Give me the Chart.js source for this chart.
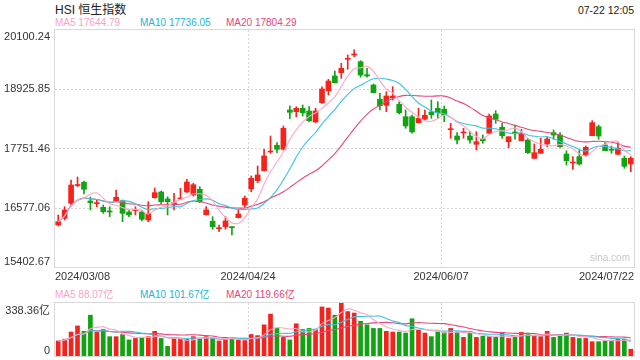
<!DOCTYPE html>
<html><head><meta charset="utf-8">
<script src="https://cdn.jsdelivr.net/npm/chart.js@4.4.1/dist/chart.umd.min.js"></script>
<style>
html,body{margin:0;padding:0;background:#fff;width:640px;height:360px;overflow:hidden;}
#wrap{position:relative;width:640px;height:360px;font-family:"Liberation Sans",Arial,"Noto Sans CJK SC",sans-serif;}
.t{position:absolute;white-space:nowrap;line-height:1;}
canvas{position:absolute;left:0;}
</style></head><body>
<div id="wrap">
<div class="t" style="left:55px;top:4px;font-size:12px;color:#222">HSI 恒生指数</div>
<div class="t" style="right:6px;top:5px;font-size:10.5px;color:#222">07-22 12:05</div>
<div class="t" style="left:55px;top:18px;font-size:10px;color:#f7a3c4">MA5 17644.79</div>
<div class="t" style="left:140px;top:18px;font-size:10px;color:#22b5d6">MA10 17736.05</div>
<div class="t" style="left:226px;top:18px;font-size:10px;color:#e8457c">MA20 17804.29</div>
<div class="t" style="left:55px;top:290px;font-size:10px;color:#f7a3c4">MA5 88.07亿</div>
<div class="t" style="left:140px;top:290px;font-size:10px;color:#22b5d6">MA10 101.67亿</div>
<div class="t" style="left:226px;top:290px;font-size:10px;color:#e8457c">MA20 119.66亿</div>
<canvas id="k" width="640" height="290" style="top:0"></canvas>
<canvas id="v" width="640" height="70" style="top:290px"></canvas>
</div>
<script>
const dates = ["03/08","03/11","03/12","03/13","03/14","03/15","03/18","03/19","03/20","03/21","03/22","03/25","03/26","03/27","03/28",
"04/02","04/03","04/05","04/08","04/09","04/10","04/11","04/12","04/15","04/16","04/17","04/18","04/19","04/22","04/23","04/24","04/25","04/26","04/29","04/30",
"05/02","05/03","05/06","05/07","05/08","05/09","05/10","05/13","05/14","05/16","05/17","05/20","05/21","05/22","05/23","05/24","05/27","05/28","05/29","05/30","05/31",
"06/03","06/04","06/05","06/06","06/07","06/11","06/12","06/13","06/14","06/17","06/18","06/19","06/20","06/21","06/24","06/25","06/26","06/27","06/28",
"07/02","07/03","07/04","07/05","07/08","07/09","07/10","07/11","07/12","07/15","07/16","07/17","07/18","07/19","07/22"];
const open = [16235,16368,16665,17018,17082,16711,16659,16586,16505,16717,
16717,16493,16519,16493,16334,16776,16889,16751,16632,16751,
16889,16830,16943,16439,16309,16162,16202,16196,16380,16632,
16949,17113,17312,17682,17815,17736,18515,18481,18548,18495,
18277,18659,18897,19189,19254,19520,19605,19472,19214,19010,
18727,18608,18758,18628,18382,18382,18263,18336,18475,18548,
18528,18124,17999,18059,17999,17835,17940,18053,18435,18172,
17886,18073,17906,17920,17557,17656,17841,18065,18019,17642,
17464,17589,17623,18005,18184,17821,17728,17637,17557,17444];
const close = [16301,16533,17028,17038,16943,16677,16671,16499,16493,16784,
16467,16434,16547,16348,16467,16876,16697,16697,16677,16770,
17088,17034,16697,16533,16202,16176,16315,16182,16453,16765,
17161,17226,17603,17696,17736,18152,18469,18548,18461,18303,
18495,18931,19089,19056,19341,19531,19625,19208,19189,18858,
18600,18792,18792,18461,18198,18079,18350,18410,18421,18461,
18416,18138,17920,18073,17920,17886,17906,18396,18330,18005,
17985,18059,18053,17668,17668,17736,17940,18019,17787,17510,
17478,17444,17775,18263,17999,17708,17716,17760,17400,17560];
const high = [16434,16598,17127,17187,17107,16790,16731,16632,16598,16929,
16731,16533,16598,16533,16697,16969,16909,16796,16864,16963,
17141,17062,16994,16598,16400,16235,16400,16202,16533,16810,
17207,17405,17736,17999,17867,18198,18594,18580,18614,18580,
18548,18976,19123,19288,19440,19605,19706,19492,19341,19030,
18846,18877,18976,18679,18515,18416,18548,18515,18713,18679,
18594,18251,18065,18152,18085,18085,18019,18435,18501,18251,
17985,18217,18132,17954,17841,17954,17985,18118,18065,17708,
17589,17722,17801,18303,18217,17867,17801,17867,17603,17590];
const low = [16216,16334,16612,16994,16850,16533,16598,16467,16400,16711,
16301,16400,16434,16315,16301,16770,16652,16434,16533,16745,
16879,16810,16677,16434,16150,16103,16150,16040,16374,16586,
16895,17074,17306,17656,17668,17722,18342,18382,18396,18283,
18263,18647,18812,19044,19143,19321,19571,19163,19163,18852,
18515,18481,18713,18435,18152,18053,18257,18316,18350,18350,
18283,17954,17841,17954,17855,17722,17855,18039,18251,17954,
17767,17934,17906,17656,17557,17656,17787,17934,17775,17424,
17339,17424,17603,18005,17934,17708,17656,17623,17359,17292];
const volume = [96.0,107.4,153.2,192.0,157.7,260.6,150.9,169.2,123.5,123.5,
137.2,102.9,112.0,118.9,123.5,157.7,112.0,61.7,112.0,112.0,
107.4,123.5,112.0,123.5,118.9,96.0,102.9,114.3,102.9,100.6,
137.2,130.3,198.9,267.5,176.0,118.9,102.9,205.8,169.2,176.0,
169.2,313.2,306.3,260.6,338.36,283.5,274.3,221.8,198.9,176.0,
176.0,157.7,153.2,153.2,146.3,237.8,164.6,146.3,123.5,153.2,
150.9,176.0,153.2,118.9,146.3,118.9,125.7,123.5,118.9,148.6,
112.0,118.9,150.9,146.3,125.7,123.5,157.7,118.9,130.3,146.3,
118.9,112.0,112.0,91.4,91.4,96.0,100.6,107.4,107.4,43.4];
const priceTicks = [15402.67,16577.06,17751.46,18925.85,20100.24];
const volTicks = ["0","338.36亿"];
const volMax = 338.36;
const xTickIdx = [0,30,60,89];
const xTickLabels = ["2024/03/08","2024/04/24","2024/06/07","2024/07/22"];

const RED='#f5231c', GREEN='#10a312';
const C_MA5='#ffa6c8', C_MA10='#3cc4df', C_MA20='#e8467c';
const FONT='"Liberation Sans", Arial, "Noto Sans CJK SC", sans-serif';
function ma(arr,n){return arr.map((_,i)=>{const s=Math.max(0,i-n+1);let t=0;for(let j=s;j<=i;j++)t+=arr[j];return t/(i-s+1);});}
const colors = close.map((c,i)=>c>=open[i]?RED:GREEN);

function frame(chart, dashedY){
  const {ctx, chartArea:a, scales:{x,y}} = chart;
  ctx.save();
  ctx.strokeStyle='#d6d6d6'; ctx.lineWidth=1;
  ctx.setLineDash([2,2]);
  const slot = x.getPixelForValue(1)-x.getPixelForValue(0);
  dashedY.forEach(v=>{const py=Math.round(y.getPixelForValue(v))+0.5;ctx.beginPath();ctx.moveTo(a.left,py);ctx.lineTo(a.right,py);ctx.stroke();});
  [30,60].forEach(i=>{const px=Math.round(x.getPixelForValue(i)-slot/2)+0.5;ctx.beginPath();ctx.moveTo(px,a.top);ctx.lineTo(px,a.bottom);ctx.stroke();});
  ctx.setLineDash([]);
  ctx.strokeStyle='#d9d9d9';
  ctx.strokeRect(Math.round(a.left)-0.5,Math.round(a.top)-0.5,Math.round(a.right-a.left)+1,Math.round(a.bottom-a.top)+1);
  ctx.restore();
}

const kPlugin = {id:'kp',
  beforeDatasetsDraw(chart){frame(chart, priceTicks.slice(1,-1));},
  afterDraw(chart){
    const {ctx, chartArea:a, scales:{x,y}} = chart;
    ctx.save(); ctx.fillStyle='#333'; ctx.font='11px '+FONT; ctx.textAlign='right';
    priceTicks.forEach((v,i)=>{
      let py=y.getPixelForValue(v);
      if(i===priceTicks.length-1){ctx.textBaseline='top';py=a.top+1;}
      else if(i===0){ctx.textBaseline='bottom';py=a.bottom;}
      else ctx.textBaseline='middle';
      ctx.fillText(v.toFixed(2), a.left-5, py);
    });
    const slot = x.getPixelForValue(1)-x.getPixelForValue(0);
    ctx.textBaseline='middle';
    xTickIdx.forEach((idx,k)=>{
      let px;
      if(k===0){ctx.textAlign='left';px=a.left;}
      else if(k===xTickIdx.length-1){ctx.textAlign='right';px=a.right;}
      else {ctx.textAlign='center';px=x.getPixelForValue(idx)-slot/2;}
      ctx.fillText(xTickLabels[k], px, a.bottom+10);
    });
    ctx.fillStyle='#c8c8c8'; ctx.font='10px '+FONT; ctx.textAlign='right'; ctx.textBaseline='middle';
    ctx.fillText('sina.com', a.right-4, a.bottom-9);
    ctx.restore();
  }};

const vPlugin = {id:'vp',
  beforeDatasetsDraw(chart){frame(chart, []);},
  afterDraw(chart){
    const {ctx, chartArea:a} = chart;
    ctx.save(); ctx.fillStyle='#333'; ctx.font='11px '+FONT; ctx.textAlign='right';
    ctx.textBaseline='top'; ctx.fillText(volTicks[1], a.left-5, a.top+2);
    ctx.textBaseline='bottom'; ctx.fillText(volTicks[0], a.left-5, a.bottom);
    ctx.restore();
  }};

const lineDs=(label,data,color)=>({type:'line',label,data,borderColor:color,borderWidth:1.1,pointRadius:0,tension:0.4,fill:false,order:0});
const common = {responsive:false,devicePixelRatio:1,animation:false,events:[],
  plugins:{legend:{display:false},tooltip:{enabled:false}}};

new Chart(document.getElementById('k'),{
  type:'bar',
  data:{labels:dates,datasets:[
    {label:'wick',data:low.map((l,i)=>[l,high[i]]),backgroundColor:colors,barThickness:1,grouped:false,order:2},
    {label:'body',data:open.map((o,i)=>[o,close[i]]),backgroundColor:colors,barThickness:5,minBarLength:1,grouped:false,order:1},
    lineDs('MA5',ma(close,5),C_MA5),
    lineDs('MA10',ma(close,10),C_MA10),
    lineDs('MA20',ma(close,20),C_MA20)
  ]},
  options:Object.assign({},common,{
    layout:{padding:{left:55,right:6,top:30,bottom:23}},
    scales:{x:{type:'category',display:false,offset:true},
            y:{display:false,min:priceTicks[0],max:priceTicks[priceTicks.length-1]}}
  }),
  plugins:[kPlugin]
});

new Chart(document.getElementById('v'),{
  type:'bar',
  data:{labels:dates,datasets:[
    {label:'vol',data:volume,backgroundColor:colors,barThickness:4,order:1},
    lineDs('MA5',ma(volume,5),C_MA5),
    lineDs('MA10',ma(volume,10),C_MA10),
    lineDs('MA20',ma(volume,20),C_MA20)
  ]},
  options:Object.assign({},common,{
    layout:{padding:{left:55,right:6,top:13,bottom:4}},
    scales:{x:{type:'category',display:false,offset:true},
            y:{display:false,min:0,max:volMax}}
  }),
  plugins:[vPlugin]
});
</script>
</body></html>
